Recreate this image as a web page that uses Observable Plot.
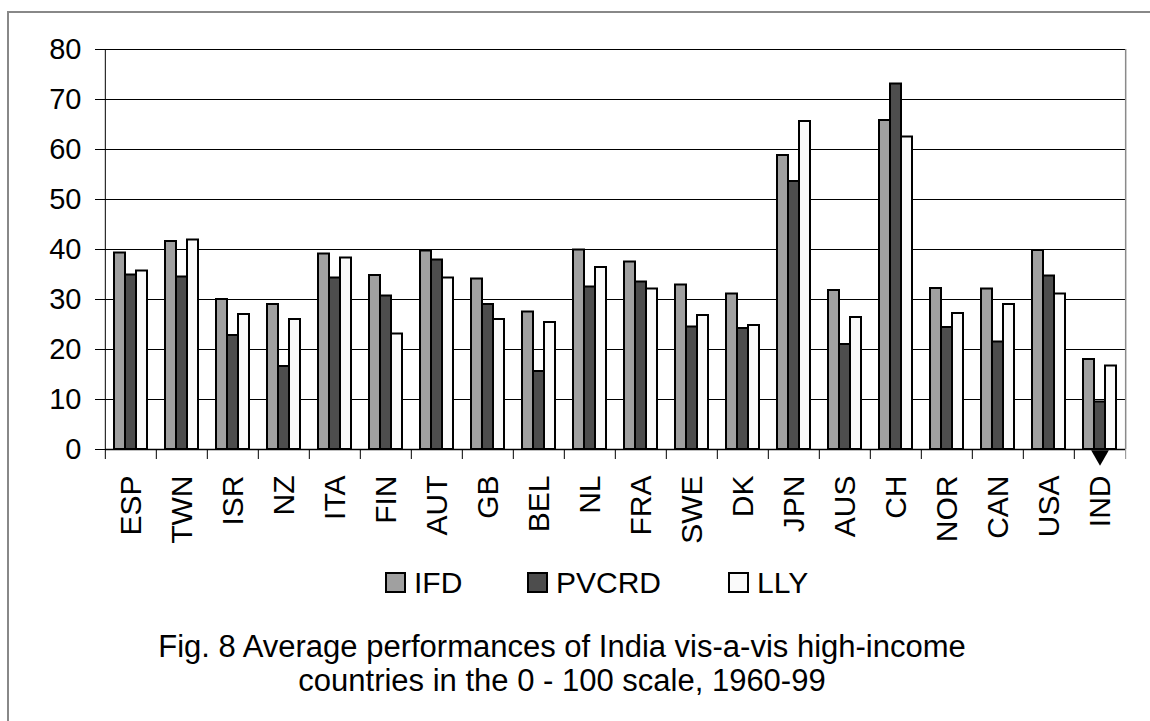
<!DOCTYPE html>
<html>
<head>
<meta charset="utf-8">
<script src="https://cdn.jsdelivr.net/npm/d3@7"></script>
<script src="https://cdn.jsdelivr.net/npm/@observablehq/plot@0.6"></script>
<style>
  html, body { margin: 0; padding: 0; background: #fff; }
  #page { position: relative; width: 1150px; height: 721px; overflow: hidden;
          font-family: "Liberation Sans", Arial, sans-serif; color: #000; }
  #chart { position: absolute; left: 0; top: 0; }
  #frame { position: absolute; left: 7px; top: 11px; right: -10px; bottom: -10px;
           border-top: 2px solid #888; border-left: 2px solid #888; pointer-events: none; }
  #legend { position: absolute; top: 566px; left: 0; width: 1150px; height: 36px;
            font-size: 30px; line-height: 34px; white-space: nowrap; }
  #legend .item { position: absolute; top: 0; display: flex; align-items: baseline; }
  #legend .sw { display: inline-block; width: 17px; height: 17px; border: 2px solid #000;
                margin-right: 8px; }
  #caption { position: absolute; top: 630px; left: 0; width: 1124px; text-align: center;
             font-size: 31px; line-height: 34px; }
</style>
</head>
<body>
<div id="page">
  <div id="chart"></div>
  <div id="legend"></div>
  <div id="caption">Fig. 8 Average performances of India vis-a-vis high-income<br>countries in the 0 - 100 scale, 1960-99</div>
  <div id="frame"></div>
</div>
<script>
// Countries, in the order they appear along the axis
const countries = ["ESP", "TWN", "ISR", "NZ", "ITA", "FIN", "AUT", "GB", "BEL", "NL",
                   "FRA", "SWE", "DK", "JPN", "AUS", "CH", "NOR", "CAN", "USA", "IND"];

// Indicator series (0 - 100 scale, averages 1960-99)
const series = ["IFD", "PVCRD", "LLY"];
const IFD   = [39.3, 41.6, 30.0, 29.0, 39.1, 34.8, 39.7, 34.1, 27.5, 39.9,
               37.5, 32.9, 31.1, 58.8, 31.8, 65.8, 32.2, 32.1, 39.8, 18.0];
const PVCRD = [34.9, 34.5, 22.8, 16.6, 34.3, 30.7, 37.9, 29.0, 15.6, 32.5,
               33.5, 24.5, 24.2, 53.6, 21.0, 73.1, 24.4, 21.5, 34.7, 9.5];
const LLY   = [35.7, 41.9, 27.0, 26.0, 38.3, 23.1, 34.3, 26.0, 25.4, 36.4,
               32.1, 26.8, 24.8, 65.6, 26.4, 62.5, 27.2, 29.0, 31.1, 16.7];
const seriesColors = ["#a0a0a0", "#4d4d4d", "#fafafa"];

// Y axis ticks
const yTicks = [0, 10, 20, 30, 40, 50, 60, 70, 80];

// The country highlighted with an arrow
const highlighted = ["IND"];

const valuesBySeries = {IFD, PVCRD, LLY};
const table = countries.flatMap((country, i) =>
  series.map(s => ({country, series: s, value: valuesBySeries[s][i]})));

const W = 1150, H = 560, mL = 101, mR = 22, mT = 49, mB = 111;
const band = (W - mL - mR) / countries.length;
const mid = () => "PVCRD"; // centre of each country's group

const chart = Plot.plot({
  width: W, height: H,
  marginLeft: mL, marginRight: mR, marginTop: mT, marginBottom: mB,
  style: {fontFamily: "'Liberation Sans', Arial, sans-serif", fontSize: "29px",
          color: "#000", background: "transparent", overflow: "visible"},
  fx: {domain: countries, paddingInner: 0, paddingOuter: 0, label: null},
  x: {domain: series, paddingInner: 0, paddingOuter: 0.73, axis: null},
  y: {domain: [0, 80], label: null},
  color: {domain: series, range: seriesColors},
  marks: [
    // horizontal gridlines
    Plot.ruleY(yTicks.filter(v => v > 0), {stroke: "#000", strokeWidth: 1}),
    // right edge of the plot area
    Plot.ruleX(highlighted, {fx: d => d, x: mid, y1: 0, y2: 80, dx: band / 2,
                             stroke: "#8a8a8a", strokeWidth: 1.5}),
    Plot.axisY({ticks: yTicks, tickSize: 10, tickPadding: 14, fontSize: 29, label: null}),
    Plot.barY(table, {fx: "country", x: "series", y: "value", fill: "series",
                      stroke: "#000", strokeWidth: 2}),
    // y axis line
    Plot.ruleX([countries[0]], {fx: d => d, x: mid, y1: 0, y2: 80, dx: -band / 2,
                                stroke: "#000", strokeWidth: 1}),
    // x axis baseline and category separators
    Plot.ruleY([0], {stroke: "#000", strokeWidth: 1.5}),
    Plot.ruleX(countries, {fx: d => d, x: mid, y1: 0, y2: -2, dx: -band / 2,
                           stroke: "#000", strokeWidth: 1}),
    Plot.ruleX(highlighted, {fx: d => d, x: mid, y1: 0, y2: -2, dx: band / 2,
                             stroke: "#8a8a8a", strokeWidth: 1}),
    Plot.axisFx({anchor: "bottom", tickSize: 0, tickPadding: 26, tickRotate: -90,
                 fontSize: 30, label: null}),
    // arrow pointing at India
    Plot.dot(highlighted, {fx: d => d, x: mid, y: () => -1.2, symbol: "triangle",
                           r: 6.6, rotate: 180, fill: "#000", stroke: "none"})
  ]
});
document.getElementById("chart").appendChild(chart);

// Legend
const legend = document.getElementById("legend");
const legendLeft = [385, 527, 728];
series.forEach((s, i) => {
  const item = document.createElement("div");
  item.className = "item";
  item.style.left = legendLeft[i] + "px";
  const sw = document.createElement("span");
  sw.className = "sw";
  sw.style.background = seriesColors[i];
  item.appendChild(sw);
  item.appendChild(document.createTextNode(s));
  legend.appendChild(item);
});
</script>
</body>
</html>
